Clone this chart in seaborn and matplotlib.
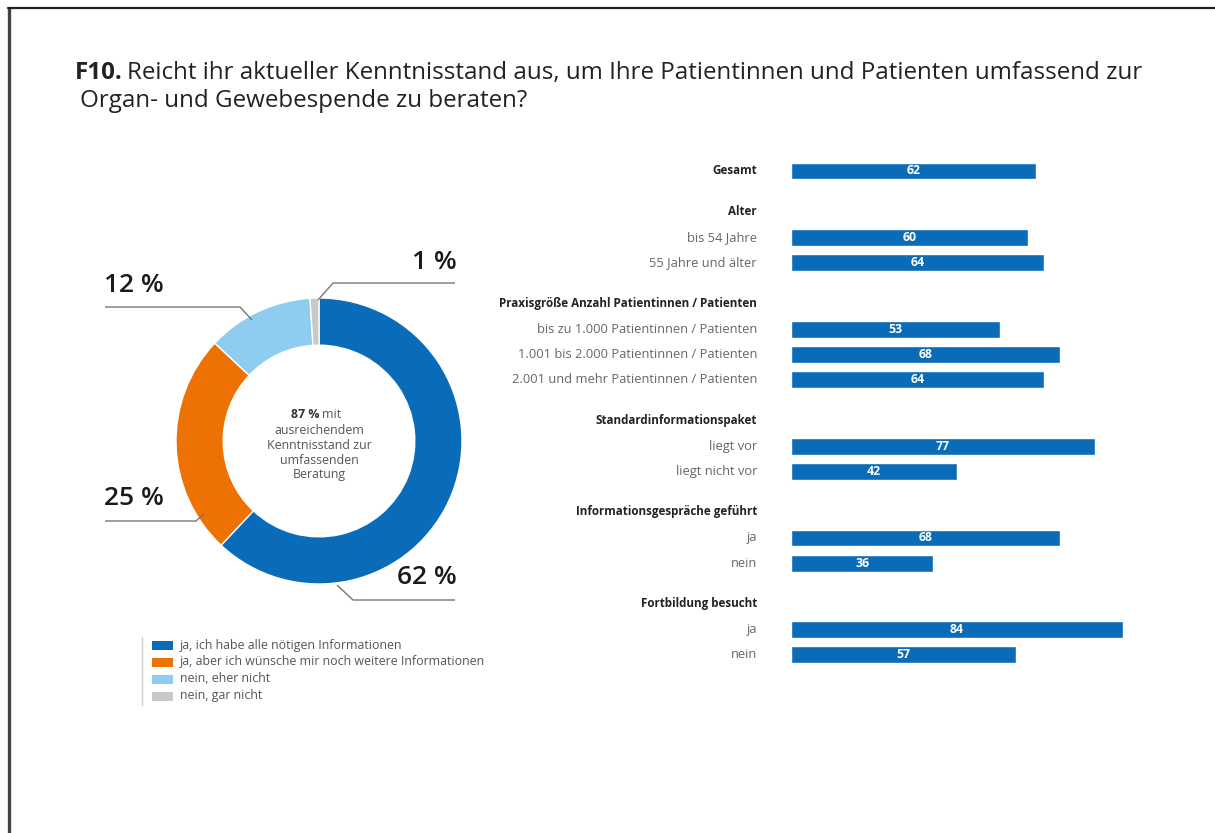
import matplotlib
matplotlib.use("Agg")
import matplotlib.pyplot as plt
import matplotlib.transforms as mtransforms
from matplotlib.lines import Line2D
from matplotlib.patches import Rectangle
import seaborn as sns
import pandas as pd

# ---- data -------------------------------------------------------------
donut_labels = [
    "ja, ich habe alle nötigen Informationen",
    "ja, aber ich wünsche mir noch weitere Informationen",
    "nein, eher nicht",
    "nein, gar nicht",
]
donut_values = [62, 25, 12, 1]
donut_colors = ["#0a6cb8", "#ee7203", "#8ecdf0", "#c8c8c8"]

group_names = [
    "Gesamt",
    "Alter",
    "Praxisgröße Anzahl Patientinnen / Patienten",
    "Standardinformationspaket",
    "Informationsgespräche geführt",
    "Fortbildung besucht",
]
group_items = [
    ["Gesamt"],
    ["bis 54 Jahre", "55 Jahre und älter"],
    ["bis zu 1.000 Patientinnen / Patienten",
     "1.001 bis 2.000 Patientinnen / Patienten",
     "2.001 und mehr Patientinnen / Patienten"],
    ["liegt vor", "liegt nicht vor"],
    ["ja", "nein"],
    ["ja", "nein"],
]
group_values = [
    [62],
    [60, 64],
    [53, 68, 64],
    [77, 42],
    [68, 36],
    [84, 57],
]

BAR_COLOR = "#0a6cb8"
FONT = ["Open Sans", "DejaVu Sans"]

sns.set_theme(style="white")
plt.rcParams["font.family"] = FONT

W, H = 1215, 833
fig = plt.figure(figsize=(W / 100, H / 100), dpi=100)
fig.patch.set_facecolor("white")


def fx(x):
    return x / W


def fy(y):
    return 1 - y / H


# ---- page frame -------------------------------------------------------
fig.add_artist(Line2D([fx(9), fx(9)], [0, fy(8)], color="#444444", lw=2.4))
fig.add_artist(Line2D([fx(8), 1], [fy(8), fy(8)], color="#222222", lw=1.6))

# ---- title ------------------------------------------------------------
TITLE_SIZE = 17.4
t_bold = fig.text(fx(75), fy(73), "F10.", fontsize=TITLE_SIZE, fontweight="bold",
                  color="#222222", va="center", ha="left")
fig.canvas.draw()
bb = t_bold.get_window_extent()
fig.text(bb.x1 / W + fx(4), fy(73),
         "Reicht ihr aktueller Kenntnisstand aus, um Ihre Patientinnen und Patienten umfassend zur",
         fontsize=TITLE_SIZE, color="#222222", va="center", ha="left")
fig.text(fx(80), fy(101), "Organ- und Gewebespende zu beraten?",
         fontsize=TITLE_SIZE, color="#222222", va="center", ha="left")

# ---- donut ------------------------------------------------------------
cx, cy, R = 319, 441, 143
left_px, right_px, top_px, bot_px = 90, 480, 240, 620
ax_p = fig.add_axes([fx(left_px), fy(bot_px), (right_px - left_px) / W,
                     (bot_px - top_px) / H])
wedges, _ = ax_p.pie(donut_values, colors=donut_colors, startangle=90,
                     counterclock=False, radius=1.0,
                     wedgeprops=dict(width=0.33, edgecolor="white", linewidth=1.0))
ax_p.set_aspect("auto")
ax_p.set_xlim(-(cx - left_px) / R, (right_px - cx) / R)
ax_p.set_ylim(-(bot_px - cy) / R, (cy - top_px) / R)
ax_p.axis("off")


def d(x, y):
    """pixel position -> donut data coordinates"""
    return (x - cx) / R, (cy - y) / R


# leader lines and percentage labels
leaders = [
    ([(337, 585), (353, 600), (455, 600)], (457, 578), "right"),
    ([(204, 514), (196, 521), (105, 521)], (104, 498), "left"),
    ([(252, 320), (240, 307), (105, 307)], (104, 285), "left"),
    ([(318, 300), (333, 283), (455, 283)], (457, 262), "right"),
]
for (pts, tpos, ha), val in zip(leaders, donut_values):
    xs, ys = zip(*[d(*p) for p in pts])
    ax_p.plot(xs, ys, color="#777777", lw=1.0, solid_capstyle="butt")
    tx, ty = d(*tpos)
    ax_p.text(tx, ty, f"{val} %", fontsize=19, color="#1a1a1a",
              ha=ha, va="center", fontweight="semibold")

# centre text
CENTER_SIZE = 8.9
share = donut_values[0] + donut_values[1]
ax_p.text(*d(319.5, 414), f"{share} %", fontsize=CENTER_SIZE, fontweight="bold",
          color="#333333", ha="right", va="center")
ax_p.text(*d(322, 414), "mit", fontsize=CENTER_SIZE, color="#555555",
          ha="left", va="center")
for yy, line in zip([430, 445, 460, 474],
                    ["ausreichendem", "Kenntnisstand zur", "umfassenden", "Beratung"]):
    ax_p.text(*d(319, yy), line, fontsize=CENTER_SIZE, color="#555555",
              ha="center", va="center")

# legend
fig.add_artist(Line2D([fx(142), fx(142)], [fy(705), fy(637)],
                      color="#d0d0d0", lw=1.0))
for i, (lab, col) in enumerate(zip(donut_labels, donut_colors)):
    yc = 645 + i * 17
    fig.add_artist(Rectangle((fx(152), fy(yc + 4.5)), 21 / W, 9 / H,
                             facecolor=col, edgecolor="none",
                             transform=fig.transFigure))
    fig.text(fx(180), fy(yc), lab, fontsize=8.9, color="#555555",
             ha="left", va="center")

# ---- bar chart --------------------------------------------------------
GAP_HEADER, HEADER_TO_BAR, BAR_STEP = 1.57, 1.02, 0.98
rows, headers = [], []
pos = 0.0
for gi, (gname, items, vals) in enumerate(zip(group_names, group_items, group_values)):
    if gi == 0:
        rows.append(dict(label=items[0], value=vals[0], y=pos, bold=True))
        continue
    pos += GAP_HEADER
    headers.append((gname, pos))
    pos += HEADER_TO_BAR
    for k, (lab, v) in enumerate(zip(items, vals)):
        if k > 0:
            pos += BAR_STEP
        rows.append(dict(label=lab, value=v, y=pos, bold=False))
df = pd.DataFrame(rows)

ROW_PX = 25.7
b_left, b_right, b_top, b_bot = 791, 1191, 150, 680
ax_b = fig.add_axes([fx(b_left), fy(b_bot), (b_right - b_left) / W,
                     (b_bot - b_top) / H])
sns.barplot(data=df, x="value", y="y", orient="h", native_scale=True,
            color=BAR_COLOR, saturation=1, width=0.66 / BAR_STEP,
            ax=ax_b, errorbar=None)
ax_b.set_xlim(0, (b_right - b_left) / 3.95)
ax_b.set_ylim((b_bot - 171) / ROW_PX, (b_top - 171) / ROW_PX)
ax_b.axis("off")

lab_tr = mtransforms.blended_transform_factory(fig.transFigure, ax_b.transData)
for r in df.itertuples():
    ax_b.text(fx(757), r.y, r.label, transform=lab_tr, ha="right", va="center",
              fontsize=8.4 if r.bold else 9.3,
              color="#222222" if r.bold else "#666666",
              fontweight="bold" if r.bold else "normal")
    ax_b.text(r.value / 2, r.y, str(r.value), ha="center", va="center",
              fontsize=8.8, color="white", fontweight="bold")
for name, y in headers:
    ax_b.text(fx(757), y, name, transform=lab_tr, ha="right", va="center",
              fontsize=8.4, color="#222222", fontweight="bold")

fig.savefig("out.png", dpi=100, facecolor="white")
